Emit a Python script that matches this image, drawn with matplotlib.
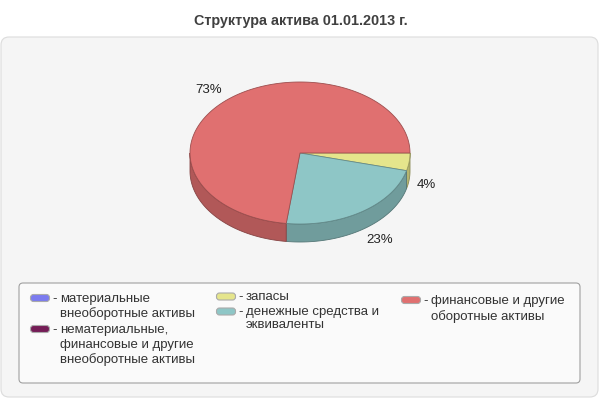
import numpy as np
import matplotlib.pyplot as plt
from matplotlib.patches import FancyBboxPatch, Polygon

plt.rcParams['font.family'] = ['Liberation Sans', 'DejaVu Sans']

title = 'Структура актива 01.01.2013 г.'
names = ['материальные\nвнеоборотные активы',
         'нематериальные,\nфинансовые и другие\nвнеоборотные активы',
         'запасы',
         'денежные средства и\nэквиваленты',
         'финансовые и другие\nоборотные активы']
shares = [0, 0, 4, 23, 73]
colors = ['#7b7bef', '#741c56', '#e5e58c', '#8ec6c6', '#e07070']

# legend layout: swatch centre (px) and line gap per entry
leg_pos = [(40, 298), (40, 329), (226, 296.5), (226, 311.5), (411, 300)]
leg_gap = [14.5, 15, 12, 12, 16]

# pie geometry in pixels
cx, cy, rx, ry, depth = 300, 153, 110, 71, 18


def darker(c, f=0.79):
    r, g, b = [int(c[i:i + 2], 16) for i in (1, 3, 5)]
    return (r * f / 255, g * f / 255, b * f / 255)


def ell(t, dy=0):
    t = np.radians(t)
    return np.column_stack([cx + rx * np.cos(t), cy - ry * np.sin(t) + dy])


fig = plt.figure(figsize=(6, 4), dpi=100)
ax = fig.add_axes([0, 0, 1, 1])
ax.set_xlim(0, 600)
ax.set_ylim(400, 0)
ax.axis('off')

ax.add_patch(FancyBboxPatch((1, 37), 597, 360, boxstyle='round,pad=0,rounding_size=8',
                            fc='#f5f5f5', ec='#dcdcdc', lw=0.8))
ax.text(300.5, 21, title, ha='center', va='center', fontsize=10.4, fontweight='bold', color='#404040')

# slice angles, clockwise from 3 o'clock
total = sum(shares)
starts, ends = [], []
a = 0.0
for s in shares:
    starts.append(a)
    a -= s / total * 360
    ends.append(a)

# side walls (front half only)
for s, e, c, v in zip(starts, ends, colors, shares):
    if v == 0:
        continue
    lo, hi = max(e, -180), min(s, 0)
    if lo >= hi:
        continue
    t = np.linspace(hi, lo, 80)
    top = ell(t)
    bot = ell(t[::-1], depth)
    ax.add_patch(Polygon(np.vstack([top, bot]), closed=True, fc=darker(c),
                         ec=darker(c, 0.6), lw=0.6))

# top faces
for s, e, c, v in zip(starts, ends, colors, shares):
    if v == 0:
        continue
    t = np.linspace(s, e, 200)
    pts = np.vstack([[cx, cy], ell(t)])
    ax.add_patch(Polygon(pts, closed=True, fc=c, ec=darker(c, 0.7), lw=0.6))

# percent labels
for s, e, v in zip(starts, ends, shares):
    if v == 0:
        continue
    m = np.radians((s + e) / 2)
    d = 8
    lx = cx + (rx + d) * np.cos(m)
    ly = cy - (ry + d) * np.sin(m)
    if np.sin(m) < 0:
        ly += depth + 4
    else:
        ly -= 4
    ax.text(lx, ly, f'{v}%', ha='left' if np.cos(m) > 0 else 'right', va='center',
            fontsize=9.5, color='#222222')

# legend
ax.add_patch(FancyBboxPatch((19, 283), 561, 100, boxstyle='round,pad=0,rounding_size=4',
                            fc='#fafafa', ec='#a0a0a0', lw=0.8))
for (x, y), n, c, g in zip(leg_pos, names, colors, leg_gap):
    ax.add_patch(FancyBboxPatch((x - 9.5, y - 3.5), 19, 7, boxstyle='round,pad=0,rounding_size=3',
                                fc=c, ec='#aaaaaa', lw=0.8))
    ax.text(x + 12, y + 1, '-', ha='left', va='center', fontsize=9.5, color='#333333')
    for k, line in enumerate(n.split('\n')):
        ax.text(x + 20, y + 1 + k * g, line, ha='left', va='center', fontsize=9.5, color='#333333')

fig.savefig('out.png', dpi=100)
